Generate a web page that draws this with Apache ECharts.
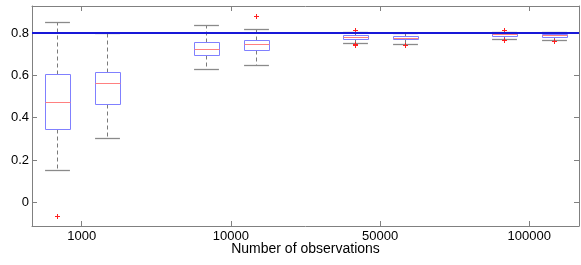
<!DOCTYPE html>
<html>
<head>
<meta charset="utf-8">
<script src="https://cdn.jsdelivr.net/npm/echarts@6/dist/echarts.min.js"></script>
<style>
html,body{margin:0;padding:0;background:#fff;}
#c{width:581px;height:265px;}
</style>
</head>
<body>
<div id="c"></div>
<script>
// ---- data ----
const boxPositions = [1, 2, 4, 5, 7, 8, 10, 11];
const whiskerLow  = [0.153, 0.303, 0.629, 0.648, 0.752, 0.747, 0.774, 0.766];
const q1Values    = [0.347, 0.463, 0.695, 0.722, 0.774, 0.771, 0.788, 0.782];
const medians     = [0.474, 0.563, 0.723, 0.748, 0.783, 0.778, 0.794, 0.791];
const q3Values    = [0.605, 0.615, 0.756, 0.769, 0.790, 0.786, 0.800, 0.797];
const whiskerHigh = [0.852, 0.800, 0.837, 0.818, 0.805, 0.802, 0.806, 0.807];
const outliers = [[1, -0.065], [5, 0.881], [7, 0.815], [7, 0.747], [7, 0.745],
                  [8, 0.742], [10, 0.813], [10, 0.767], [10, 0.765], [11, 0.761]];
const xTickPositions = [1.5, 4.5, 7.5, 10.5];
const xTickLabels = ['1000', '10000', '50000', '100000'];
const yTickValues = [0, 0.2, 0.4, 0.6, 0.8];
const yTickLabels = ['0', '0.2', '0.4', '0.6', '0.8'];
const refValue = 0.8;
const xName = 'Number of observations';

const boxData = boxPositions.map((p, i) =>
  [p, whiskerLow[i], q1Values[i], medians[i], q3Values[i], whiskerHigh[i]]);

const FONT = 'Liberation Sans, Arial, sans-serif';
const AX = '#808080';
const r = v => Math.round(v) + 0.5;

function boxItem(params, api) {
  const x = api.value(0);
  const lo = api.coord([x, api.value(1)]);
  const q1 = api.coord([x, api.value(2)]);
  const md = api.coord([x, api.value(3)]);
  const q3 = api.coord([x, api.value(4)]);
  const hi = api.coord([x, api.value(5)]);
  const unit = api.size([1, 0])[0];
  const bw = unit * 0.5, cw = unit * 0.25;
  const cx = r(lo[0]);
  const L = Math.round(cx - bw / 2) + 0.5, R = Math.round(cx + bw / 2) + 0.5;
  const dash = {stroke: '#7a7a7a', lineWidth: 1, lineDash: [4, 3], fill: null};
  const cap = {stroke: '#8a8a8a', lineWidth: 1.3, fill: null};
  return {
    type: 'group',
    children: [
      {type: 'line', shape: {x1: cx, y1: r(q3[1]), x2: cx, y2: r(hi[1])}, style: dash},
      {type: 'line', shape: {x1: cx, y1: r(q1[1]), x2: cx, y2: r(lo[1])}, style: dash},
      {type: 'line', shape: {x1: cx - cw, y1: r(hi[1]), x2: cx + cw, y2: r(hi[1])}, style: cap},
      {type: 'line', shape: {x1: cx - cw, y1: r(lo[1]), x2: cx + cw, y2: r(lo[1])}, style: cap},
      {type: 'rect', shape: {x: L, y: r(q3[1]), width: R - L, height: r(q1[1]) - r(q3[1])},
       style: {stroke: '#8080ff', lineWidth: 1, fill: null}},
      {type: 'line', shape: {x1: L, y1: r(md[1]), x2: R, y2: r(md[1])},
       style: {stroke: '#ff8080', lineWidth: 1}}
    ]
  };
}

function plusItem(params, api) {
  const p = api.coord([api.value(0), api.value(1)]);
  const x = r(p[0]), y = r(p[1]), s = 2.5;
  const st = {stroke: '#ff2020', lineWidth: 1};
  return {
    type: 'group',
    children: [
      {type: 'line', shape: {x1: x - s, y1: y, x2: x + s, y2: y}, style: st},
      {type: 'line', shape: {x1: x, y1: y - s, x2: x, y2: y + s}, style: st}
    ]
  };
}

const xBase = {
  type: 'value', min: 0.5, max: 11.5,
  axisLine: {onZero: false, lineStyle: {color: AX, width: 1}},
  splitLine: {show: false}
};
const yBase = {
  type: 'value', min: -0.112, max: 0.928,
  axisLine: {onZero: false, lineStyle: {color: AX, width: 1}},
  splitLine: {show: false}
};

const chart = echarts.init(document.getElementById('c'), null, {renderer: 'canvas'});
chart.setOption({
  animation: false,
  backgroundColor: '#fff',
  grid: {left: 32, top: 6, width: 547, height: 220, containLabel: false},
  xAxis: [
    Object.assign({}, xBase, {
      position: 'bottom',
      axisTick: {inside: true, length: 5, customValues: xTickPositions, lineStyle: {color: AX}},
      axisLabel: {customValues: xTickPositions, color: '#000', fontSize: 13, fontFamily: FONT, margin: 4,
        formatter: v => xTickLabels[xTickPositions.indexOf(v)] || ''},
      name: xName, nameLocation: 'middle', nameGap: 16, nameMoveOverlap: false,
      nameTextStyle: {color: '#000', fontSize: 14, fontFamily: FONT}
    }),
    Object.assign({}, xBase, {
      position: 'top',
      axisTick: {inside: true, length: 5, customValues: xTickPositions, lineStyle: {color: AX}},
      axisLabel: {show: false}
    })
  ],
  yAxis: [
    Object.assign({}, yBase, {
      position: 'left',
      axisTick: {inside: true, length: 5, customValues: yTickValues, lineStyle: {color: AX}},
      axisLabel: {customValues: yTickValues, color: '#000', fontSize: 13, fontFamily: FONT, margin: 3,
        formatter: v => yTickLabels[yTickValues.indexOf(v)] || ''}
    }),
    Object.assign({}, yBase, {
      position: 'right',
      axisTick: {inside: true, length: 5, customValues: yTickValues, lineStyle: {color: AX}},
      axisLabel: {show: false}
    })
  ],
  series: [
    {
      type: 'custom', xAxisIndex: 0, yAxisIndex: 0,
      renderItem: boxItem, data: boxData,
      encode: {x: 0, y: [1, 2, 3, 4, 5]}, z: 2,
      markLine: {
        silent: true, symbol: 'none', label: {show: false}, z: 5,
        lineStyle: {color: '#1818d8', width: 2, type: 'solid'},
        data: [{yAxis: refValue}]
      }
    },
    {
      type: 'custom', xAxisIndex: 0, yAxisIndex: 0,
      renderItem: plusItem, data: outliers,
      encode: {x: 0, y: 1}, z: 3
    }
  ]
});
</script>
</body>
</html>
